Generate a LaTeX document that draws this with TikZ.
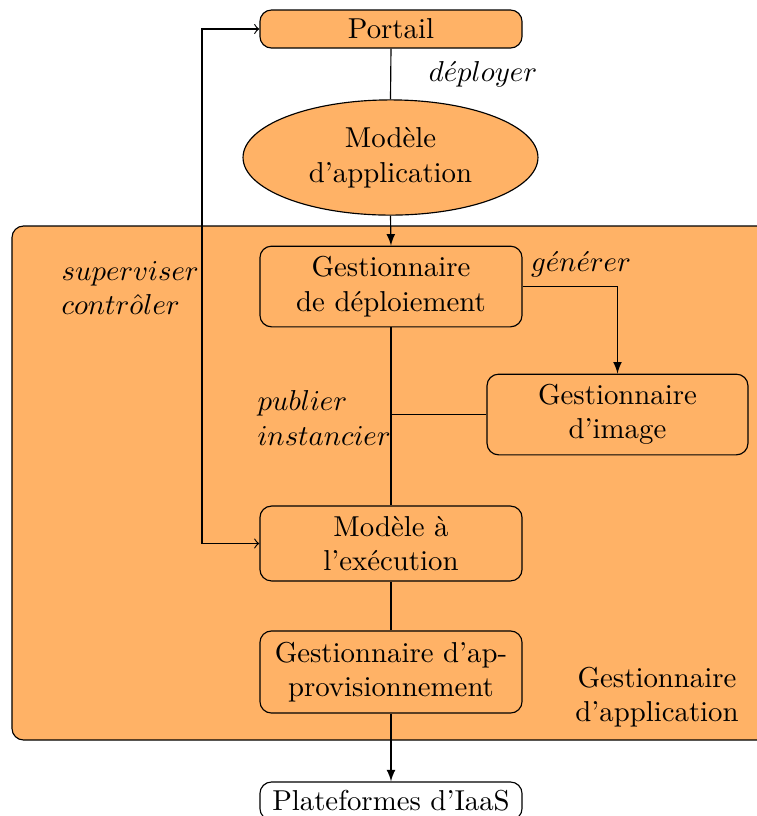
\documentclass[tikz,border=0pt]{standalone}
\usetikzlibrary{shapes.geometric,arrows}
\begin{document}
\begin{tikzpicture}[x=0.3472pt,y=-0.3472pt,
  box/.style={draw,rounded corners=4pt,fill=orange!60,align=center,minimum width=91pt,inner sep=2pt},
  whitebox/.style={draw,rounded corners=4pt,fill=white,align=center,minimum width=91pt,inner sep=2pt},
  lbl/.style={align=left,inner sep=0pt}]
\useasboundingbox (0,0) rectangle (757,816);
\draw[rounded corners=4pt,fill=orange!60] (12,226) rectangle (790,740);
\node[box,minimum height=13.2pt] (portail) at (391,29) {Portail};
\node[draw,ellipse,fill=orange!60,align=center,minimum width=102.4pt,minimum height=40pt,inner sep=0pt] (modapp) at (390.5,157.5) {Modèle\\d'application};
\node[box,minimum height=28pt] (gdd) at (391,286.5) {Gestionnaire\\de déploiement};
\node[box,minimum height=28pt,minimum width=90.6pt] (gdi) at (617.5,414.5) {Gestionnaire\\d'image};
\node[box,minimum height=26pt] (mae) at (391,543.5) {Modèle à\\l'exécution};
\node[box,minimum height=28.5pt] (gda) at (391,672) {Gestionnaire d'ap-\\provisionnement};
\node[whitebox,minimum height=13.2pt] (iaas) at (391,801) {Plateformes d'IaaS};
\node[align=center,inner sep=0pt] (gapp) at (657,697) {Gestionnaire\\d'application};

\draw (portail.south) -- (modapp.north);
\node[lbl] (ldep) at (483,74) {$d\acute{e}ployer$};
\draw[-latex] (modapp.south) -- (gdd.north);
\draw[-latex] (gdd.east) -| (gdi.north);
\node[lbl] (lgen) at (581,264) {$g\acute{e}n\acute{e}rer$};
\draw (gdd.south) -- (mae.north);
\coordinate (junc) at (391,414.5);
\draw (junc) -- (gdi.west);
\node[lbl,anchor=west] (lpub) at (257,418) {$publier$\\$instancier$};
\draw (mae.south) -- (gda.north);
\draw[-latex] (gda.south) -- (iaas.north);
\coordinate (lefttop) at (202,29);
\draw[<->] (portail.west) -- (lefttop) |- (mae.west);
\node[lbl,anchor=west] (lsup) at (61,288) {$superviser$\\$contr\hat{o}ler$};
\end{tikzpicture}
\end{document}
